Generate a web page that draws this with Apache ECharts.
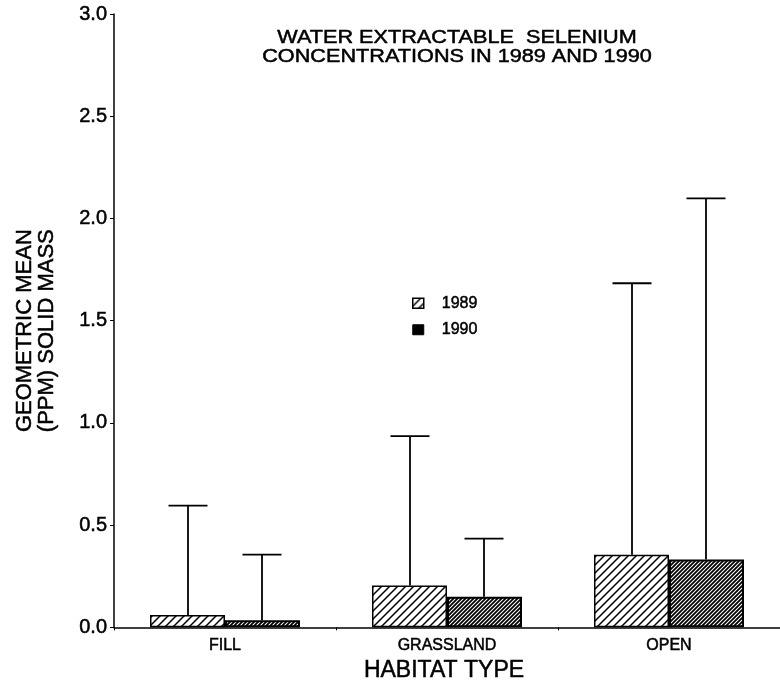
<!DOCTYPE html>
<html>
<head>
<meta charset="utf-8">
<title>Water extractable selenium</title>
<script src="https://cdn.jsdelivr.net/npm/echarts@6/dist/echarts.min.js"></script>
<style>
	html,body{margin:0;padding:0;background:#fff;}
	#main{width:780px;height:687px;}
</style>
</head>
<body>
<div id="main"></div>
<script type="text/javascript">
// 数据
var habitats = ['FILL', 'GRASSLAND', 'OPEN'];
var years = ['1989', '1990'];
var mean1989 = [0.06, 0.205, 0.355];
var mean1990 = [0.035, 0.15, 0.332];
var upper1989 = [0.595, 0.935, 1.683];
var upper1990 = [0.356, 0.434, 2.098];
var yTicks = ['0.0', '0.5', '1.0', '1.5', '2.0', '2.5', '3.0'];

var FONT = '"Liberation Sans", Arial, sans-serif';
// 扫描件的字比较粗，加一点描边
var INK = {color: '#000', textBorderColor: '#000', textBorderWidth: 0.5};

// 斜线填充
function hatch(step, lw, bg) {
	var c = document.createElement('canvas');
	c.width = step; c.height = step;
	var ctx = c.getContext('2d');
	ctx.fillStyle = bg;
	ctx.fillRect(0, 0, step, step);
	ctx.strokeStyle = '#000';
	ctx.lineWidth = lw;
	ctx.beginPath();
	ctx.moveTo(-1, step + 1); ctx.lineTo(step + 1, -1);
	ctx.moveTo(-1, 1); ctx.lineTo(1, -1);
	ctx.moveTo(step - 1, step + 1); ctx.lineTo(step + 1, step - 1);
	ctx.stroke();
	return c;
}
var wide = {image: hatch(8, 1.5, '#fff'), repeat: 'repeat'};
var dense = {image: hatch(4, 1.8, '#fff'), repeat: 'repeat'};

function errData(means, uppers, side) {
	return means.map(function (m, i) { return [i, m, uppers[i], side]; });
}

function renderErr(params, api) {
	var cat = api.value(0);
	var band = api.size([1, 0])[0];
	var off = api.value(3) * band / 6;
	var p0 = api.coord([cat, api.value(1)]);
	var p1 = api.coord([cat, api.value(2)]);
	var x = p0[0] + off;
	var st = {stroke: '#000', lineWidth: 1.8};
	return {
		type: 'group',
		children: [
			{type: 'line', shape: {x1: x, y1: p0[1], x2: x, y2: p1[1]}, style: st},
			{type: 'line', shape: {x1: x - 19.5, y1: p1[1], x2: x + 19.5, y2: p1[1]}, style: st}
		]
	};
}

function titleLine(text, y) {
	return {
		type: 'text', x: 457, y: y, scaleX: 1.14,
		style: {text: text, font: '19px ' + FONT, fill: '#000', stroke: '#000', lineWidth: 0.5,
			textAlign: 'center', textVerticalAlign: 'middle'}
	};
}

var myChart = echarts.init(document.getElementById('main'));
var option = {
	backgroundColor: '#fff',
	animation: false,
	graphic: [
		titleLine('WATER EXTRACTABLE  SELENIUM', 38),
		titleLine('CONCENTRATIONS IN 1989 AND 1990', 57)
	],
	legend: {
		orient: 'vertical',
		left: 412,
		top: 295,
		padding: 0,
		itemWidth: 11,
		itemHeight: 10,
		itemGap: 10,
		icon: 'rect',
		textStyle: Object.assign({fontFamily: FONT, fontSize: 16, padding: [0, 0, 0, 13]}, INK),
		data: [
			{name: years[0], itemStyle: {color: wide, borderColor: '#000', borderWidth: 1.5}},
			{name: years[1], itemStyle: {color: '#000', borderColor: '#000', borderWidth: 1}}
		]
	},
	grid: {left: 114, top: 14, bottom: 58, width: 675},
	xAxis: {
		type: 'category',
		data: habitats,
		name: 'HABITAT TYPE',
		nameLocation: 'middle',
		nameGap: 27,
		nameTextStyle: Object.assign({fontFamily: FONT, fontSize: 23, padding: [0, 6, 0, 0]}, INK),
		axisLine: {lineStyle: {color: '#000', width: 1.5}},
		axisTick: {show: true, length: 3, lineStyle: {color: '#000'}},
		axisLabel: Object.assign({fontFamily: FONT, fontSize: 16, margin: 10}, INK)
	},
	yAxis: {
		type: 'value',
		min: 0,
		max: 3,
		interval: 0.5,
		name: 'GEOMETRIC MEAN\n(PPM) SOLID MASS',
		nameLocation: 'middle',
		nameGap: 56,
		nameTextStyle: Object.assign({fontFamily: FONT, fontSize: 22, lineHeight: 22, padding: [0, 20, 0, 0]}, INK),
		splitLine: {show: false},
		axisLine: {show: true, lineStyle: {color: '#000', width: 1.5}},
		axisTick: {show: true, length: 4, lineStyle: {color: '#000'}},
		axisLabel: Object.assign({
			fontFamily: FONT, fontSize: 20, margin: 7,
			formatter: function (v) { return yTicks[Math.round(v / 0.5)]; }
		}, INK)
	},
	series: [
		{
			name: years[0], type: 'bar', data: mean1989,
			barWidth: 75, barGap: '0%',
			itemStyle: {color: wide, borderColor: '#000', borderWidth: 1.5}
		},
		{
			name: years[1], type: 'bar', data: mean1990,
			barWidth: 75, barGap: '0%',
			itemStyle: {color: dense, borderColor: '#000', borderWidth: 2}
		},
		{
			type: 'custom', renderItem: renderErr, z: 5,
			encode: {x: 0, y: [1, 2]},
			data: errData(mean1989, upper1989, -1)
		},
		{
			type: 'custom', renderItem: renderErr, z: 5,
			encode: {x: 0, y: [1, 2]},
			data: errData(mean1990, upper1990, 1)
		}
	]
};
myChart.setOption(option);
</script>
</body>
</html>
